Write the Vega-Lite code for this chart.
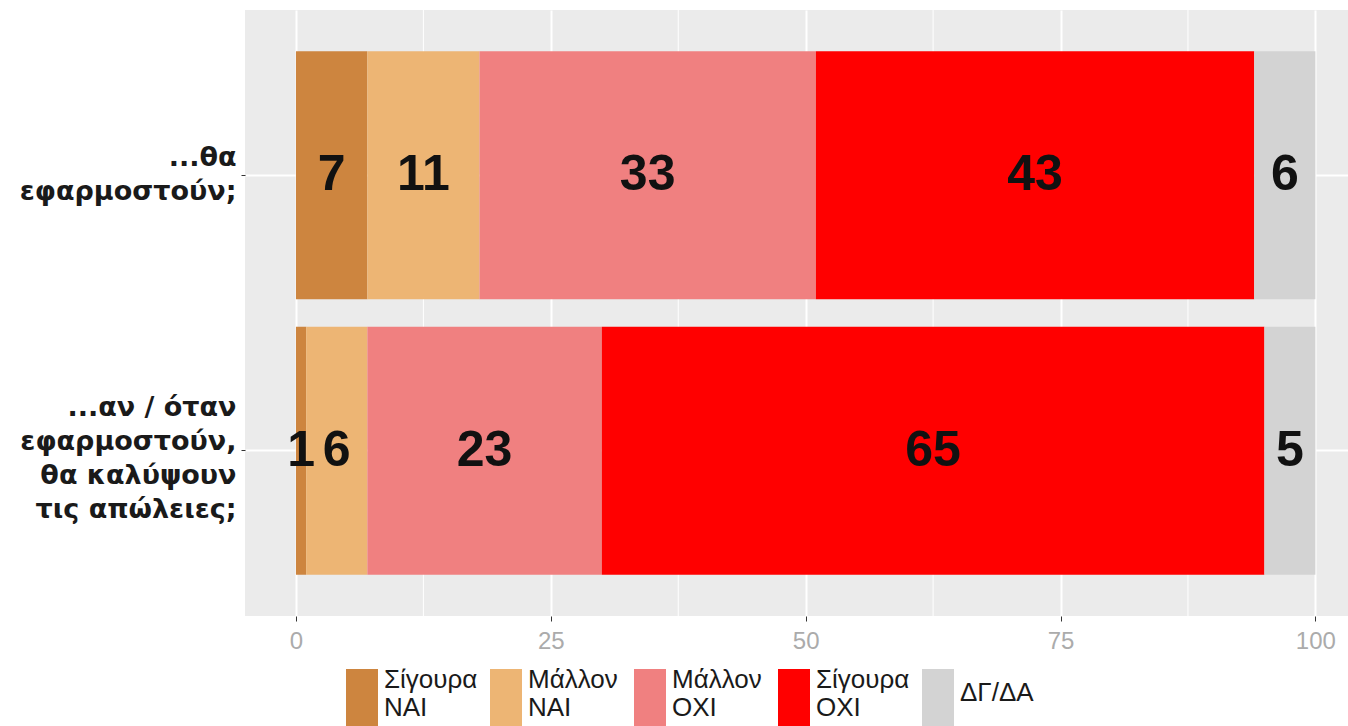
{
  "$schema": "https://vega.github.io/schema/vega-lite/v6.json",
  "width": 1103,
  "height": 606,
  "autosize": {"type": "none"},
  "padding": {"left": 245, "top": 10, "right": 0, "bottom": 110},
  "background": "white",
  "config": {"view": {"fill": "#EBEBEB", "stroke": null}, "font": "Liberation Sans"},
  "datasets": {
    "minor": [{"v": 12.5}, {"v": 37.5}, {"v": 62.5}, {"v": 87.5}],
    "main": [
      {"q": "...θα|εφαρμοστούν;", "resp": "Σίγουρα ΝΑΙ", "ord": 1, "pct": 7},
      {"q": "...θα|εφαρμοστούν;", "resp": "Μάλλον ΝΑΙ", "ord": 2, "pct": 11},
      {"q": "...θα|εφαρμοστούν;", "resp": "Μάλλον ΟΧΙ", "ord": 3, "pct": 33},
      {"q": "...θα|εφαρμοστούν;", "resp": "Σίγουρα ΟΧΙ", "ord": 4, "pct": 43},
      {"q": "...θα|εφαρμοστούν;", "resp": "ΔΓ/ΔΑ", "ord": 5, "pct": 6},
      {"q": "...αν / όταν|εφαρμοστούν,|θα καλύψουν|τις απώλειες;", "resp": "Σίγουρα ΝΑΙ", "ord": 1, "pct": 1},
      {"q": "...αν / όταν|εφαρμοστούν,|θα καλύψουν|τις απώλειες;", "resp": "Μάλλον ΝΑΙ", "ord": 2, "pct": 6},
      {"q": "...αν / όταν|εφαρμοστούν,|θα καλύψουν|τις απώλειες;", "resp": "Μάλλον ΟΧΙ", "ord": 3, "pct": 23},
      {"q": "...αν / όταν|εφαρμοστούν,|θα καλύψουν|τις απώλειες;", "resp": "Σίγουρα ΟΧΙ", "ord": 4, "pct": 65},
      {"q": "...αν / όταν|εφαρμοστούν,|θα καλύψουν|τις απώλειες;", "resp": "ΔΓ/ΔΑ", "ord": 5, "pct": 5}
    ]
  },
  "layer": [
    {
      "data": {"name": "minor"},
      "mark": {"type": "rule", "color": "white", "strokeWidth": 1},
      "encoding": {
        "x": {"field": "v", "type": "quantitative", "scale": {"domain": [-5, 103.2], "nice": false, "zero": false},
          "axis": {"values": [0, 25, 50, 75, 100], "title": null, "grid": true, "gridColor": "white", "gridWidth": 2, "domain": false, "tickColor": "#333333", "tickSize": 5, "labelColor": "#ABABAB", "labelFontSize": 24, "labelPadding": 8}}
      }
    },
    {
      "data": {"name": "main"},
      "mark": {"type": "bar"},
      "encoding": {
        "y": {"field": "q", "type": "nominal", "sort": ["...θα|εφαρμοστούν;", "...αν / όταν|εφαρμοστούν,|θα καλύψουν|τις απώλειες;"],
          "scale": {"paddingInner": 0.1, "paddingOuter": 0.15},
          "axis": {"title": null, "domain": false, "grid": true, "gridColor": "white", "gridWidth": 2, "bandPosition": 0.5, "tickColor": "#333333", "tickSize": 4,
            "labelFont": "DejaVu Sans", "labelFontSize": 27, "labelFontWeight": "bold", "labelColor": "#1a1a1a", "labelLineHeight": 34, "labelLimit": 400, "labelPadding": 5,
            "labelOffset": {"condition": {"test": "indexof(datum.label, 'όταν') >= 0", "value": -43}, "value": -17},
            "labelExpr": "split(datum.label, '|')"}},
        "x": {"field": "pct", "type": "quantitative", "stack": "zero", "scale": {"domain": [-5, 103.2], "nice": false, "zero": false}, "axis": {"values": [0, 25, 50, 75, 100], "title": null, "grid": true, "gridColor": "white", "gridWidth": 2, "domain": false, "tickColor": "#333333", "tickSize": 5, "labelColor": "#ABABAB", "labelFontSize": 24, "labelPadding": 8}},
        "color": {"field": "resp", "type": "nominal",
          "scale": {"domain": ["Σίγουρα ΝΑΙ", "Μάλλον ΝΑΙ", "Μάλλον ΟΧΙ", "Σίγουρα ΟΧΙ", "ΔΓ/ΔΑ"], "range": ["#CD853F", "#EDB574", "#F08080", "#FF0000", "#D3D3D3"]},
          "legend": {"orient": "none", "legendX": 101, "legendY": 654, "direction": "horizontal", "columns": 5, "gridAlign": "all", "columnPadding": 12, "title": null,
            "symbolType": "M-1,-0.7H1V3.4H-1Z", "symbolSize": 1024, "symbolStrokeWidth": 0, "symbolOpacity": 1,
            "labelFontSize": 26, "labelLineHeight": 26, "labelOffset": 6, "labelColor": "#1a1a1a", "labelLimit": 200, "labelExpr": "split(datum.label, ' ')",
            "encode": {"labels": {"update": {"dy": {"signal": "datum.label === 'ΔΓ/ΔΑ' ? 13 : 0"}}}}}},
        "order": {"field": "ord", "type": "quantitative"}
      }
    },
    {
      "data": {"name": "main"},
      "transform": [
        {"stack": "pct", "groupby": ["q"], "sort": [{"field": "ord"}], "as": ["x0", "x1"]},
        {"calculate": "(datum.x0 + datum.x1) / 2", "as": "mid"}
      ],
      "mark": {"type": "text", "fontSize": 50, "fontWeight": "bold", "color": "#111111", "baseline": "middle"},
      "encoding": {
        "y": {"field": "q", "type": "nominal", "sort": ["...θα|εφαρμοστούν;", "...αν / όταν|εφαρμοστούν,|θα καλύψουν|τις απώλειες;"]},
        "x": {"field": "mid", "type": "quantitative", "scale": {"domain": [-5, 103.2], "nice": false, "zero": false}},
        "text": {"field": "pct", "type": "quantitative"}
      }
    }
  ]
}
